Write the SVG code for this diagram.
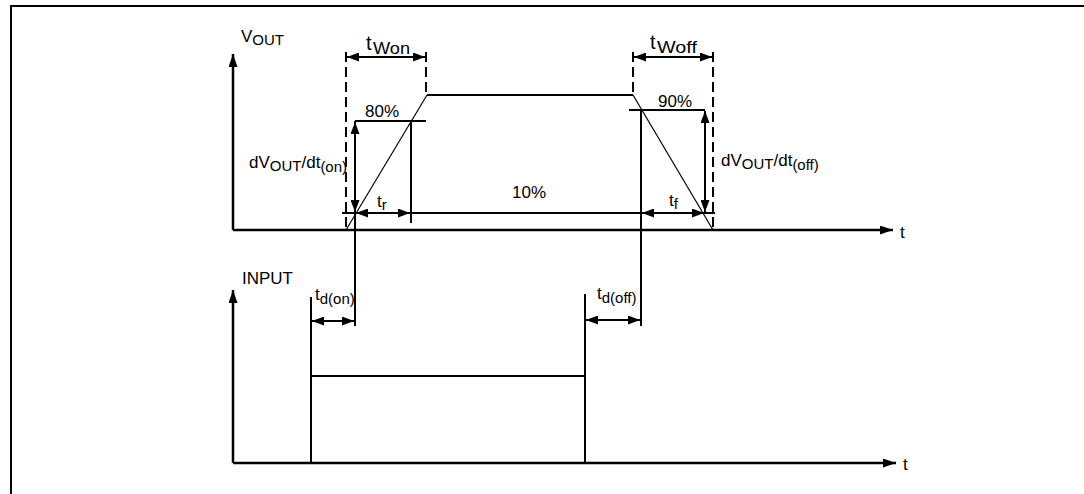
<svg xmlns="http://www.w3.org/2000/svg" width="1084" height="494" viewBox="0 0 1084 494">
<style>
.ln{stroke:#000;stroke-width:2;fill:none}
.thin{stroke:#000;stroke-width:1.2;fill:none}
.dash{stroke:#000;stroke-width:2;fill:none;stroke-dasharray:10 5}
.dim{stroke:#000;stroke-width:2;fill:none;marker-start:url(#ah);marker-end:url(#ah)}
.ax{stroke:#000;stroke-width:2.5;fill:none;marker-end:url(#ax)}
text{font-family:"Liberation Sans",Arial,sans-serif;font-size:17px;fill:#000}
.sub{font-size:15px}
.big{font-size:20px}
</style>
<defs>
<marker id="ah" markerUnits="userSpaceOnUse" markerWidth="12" markerHeight="9" refX="12" refY="4.5" orient="auto-start-reverse"><path d="M0,0 L12,4.5 L0,9 z" fill="#000"/></marker>
<marker id="ax" markerUnits="userSpaceOnUse" markerWidth="13" markerHeight="9" refX="13" refY="4.5" orient="auto"><path d="M0,0 L13,4.5 L0,9 z" fill="#000"/></marker>
</defs>
<path class="ln" d="M11,494 V6 H1084"/>
<g id="axes">
<path class="ax" d="M233,230 V54"/>
<path class="ax" d="M233,230 H893"/>
<path class="ax" d="M233,463 V290"/>
<path class="ax" d="M233,463 H896"/>
<text x="241" y="42">V<tspan class="sub" dy="3">OUT</tspan></text>
<text x="900" y="238">t</text>
<text x="242" y="284">INPUT</text>
<text x="903" y="470">t</text>
</g>
<g id="vout">
<path class="thin" d="M346,230 L427,95"/>
<path class="ln" d="M427,95 H633"/>
<path class="thin" d="M633,95 L713,230"/>
</g>
<g id="input">
<path class="ln" d="M311,297 V463 M311,376 H585 M585,294 V463"/>
</g>
<g id="connectors">
<path class="dash" d="M346,52 V230 M426,52 V95 M633,52 V95 M713,52 V229"/>
<path class="ln" d="M355,121 H426 M629,110 H705 M342,213 H715"/>
<path class="ln" d="M355,121 V326 M411,121 V223 M641,110 V326"/>
<path class="dim" d="M347,57 H425"/>
<path class="dim" d="M634,57 H712"/>
<path class="dim" d="M355,122 V212"/>
<path class="dim" d="M705,111 V212"/>
<path class="dim" d="M356,213 H410"/>
<path class="dim" d="M642,213 H704"/>
<path class="dim" d="M312,321 H354"/>
<path class="dim" d="M586,320 H640"/>
</g>
<g id="labels">
<text class="big" x="366" y="50">t</text>
<text x="373" y="54" textLength="37" lengthAdjust="spacingAndGlyphs">Won</text>
<text class="big" x="650" y="49">t</text>
<text x="657" y="53" textLength="40" lengthAdjust="spacingAndGlyphs">Woff</text>
<text x="365" y="117">80%</text>
<text x="658" y="107">90%</text>
<text x="249" y="168">dV<tspan class="sub" dy="3">OUT</tspan><tspan dy="-3">/dt</tspan><tspan class="sub" dy="4">(on)</tspan></text>
<text x="721" y="166">dV<tspan class="sub" dy="3">OUT</tspan><tspan dy="-3">/dt</tspan><tspan class="sub" dy="4">(off)</tspan></text>
<text x="377" y="207">t<tspan class="sub" dy="3">r</tspan></text>
<text x="512" y="198">10%</text>
<text x="669" y="206">t<tspan class="sub" dy="3">f</tspan></text>
<text x="315" y="300">t<tspan class="sub" dy="4">d(on)</tspan></text>
<text x="597" y="299">t<tspan class="sub" dy="4">d(off)</tspan></text>
</g>
</svg>
